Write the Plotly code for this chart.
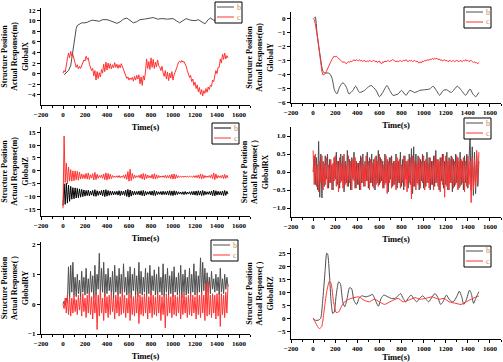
import plotly.graph_objects as go

# ---------------- data ----------------
t = list(range(0, 1501, 10))  # sampling grid (s) for the noisy series

# Panel 1 : GlobalX
t_b1 = [10, 30, 50, 70, 80, 90, 100, 110, 120, 130, 150, 170, 200, 220, 250, 270, 300, 330, 360,
        400, 430, 460, 490, 520, 550, 580, 610, 640, 670, 700, 740, 780, 820, 860, 900, 950, 1000,
        1030, 1060, 1090, 1120, 1160, 1200, 1230, 1260, 1290, 1320, 1340, 1370, 1400, 1450, 1500]
b1 = [-0.2, 0.2, 0.6, 1.5, 3.0, 4.5, 6.0, 7.5, 8.5, 9.1, 9.4, 9.6, 9.6, 9.7, 10.0, 10.1, 10.0, 9.9, 10.2,
      10.2, 10.0, 9.8, 9.5, 9.8, 10.3, 10.5, 10.0, 9.6, 9.8, 10.2, 10.3, 10.4, 10.6, 10.3, 10.4, 10.3, 10.4,
      10.0, 9.6, 10.0, 10.4, 10.1, 10.0, 10.2, 9.8, 9.4, 10.2, 10.5, 10.1, 10.0, 10.0, 10.0]
c1 = [0.1, 0.6, 0.3, 2.0, 2.8, 3.9, 3.0, 4.2, 3.3, 3.6, 2.4, 2.0, 1.2, 1.7, 0.9, 1.4, 1.0, 1.6, 2.0, 2.6,
      2.4, 3.3, 2.7, 3.0, 1.8, 1.2, 0.6, 1.0, -0.4, 0.6, -1.2, 0.4, -0.9, 0.2, -0.6, 0.8, 0.1, 1.8, 0.4, 2.2,
      0.7, 2.0, 1.0, 1.9, 0.9, 1.7, 1.1, 2.1, 1.2, 1.8, 1.0, 1.7, 1.1, 1.9, 1.3, 0.9, 0.3, -0.4, -0.9, -0.6,
      -1.2, -0.8, -1.1, -0.7, -1.4, -0.5, -1.2, -0.3, -1.0, -0.2, -1.9, -0.6, -2.2, -0.4, -1.2, 0.5, 2.8, 1.0, 2.3, 0.8,
      3.0, 1.2, 2.7, 1.0, 2.2, 1.3, 2.6, 1.5, 1.2, 0.6, 1.4, 0.2, -0.5, 0.6, -1.0, 0.3, -1.3, 0.1, -0.8, 0.4,
      -1.2, -0.2, 0.2, 0.9, 1.5, 2.2, 2.4, 2.1, 2.5, 2.2, 2.3, 1.9, 1.4, 0.6, 0.1, -0.7, -0.3, -1.5, -1.0, -2.2,
      -1.6, -2.8, -2.1, -3.4, -2.6, -3.9, -3.0, -4.2, -3.2, -3.7, -2.8, -3.5, -2.5, -3.0, -2.2, -2.4, -1.2, -1.5, -0.4, 0.6,
      0.0, 1.2, 1.2, 2.8, 2.0, 3.7, 2.7, 3.9, 2.8, 3.4, 3.0]

# Panel 2 : GlobalY
t_b2 = [10, 20, 35, 55, 70, 85, 100, 125, 150, 172, 194, 215, 240, 270, 300, 325, 360, 385, 420, 465,
        500, 525, 570, 600, 630, 668, 693, 723, 770, 800, 840, 875, 920, 965, 1010, 1055, 1085, 1115,
        1145, 1178, 1207, 1250, 1305, 1342, 1380, 1420, 1445, 1472, 1500]
b2 = [0.0, 0.1, -1.0, -2.2, -3.0, -3.7, -3.9, -3.9, -3.95, -4.3, -5.15, -5.4, -4.9, -4.6, -4.9, -5.4,
      -5.15, -4.85, -5.3, -5.15, -4.9, -4.8, -5.15, -5.6, -5.3, -4.8, -5.15, -5.5, -5.4, -5.15, -5.5,
      -5.15, -5.3, -5.15, -5.1, -5.05, -4.85, -5.15, -5.5, -5.15, -5.1, -5.3, -4.85, -5.15, -5.5, -5.05,
      -5.4, -5.6, -5.3]
c2 = [0.0, -0.1, -0.4, -0.8, -1.4, -2.0, -2.7, -3.3, -3.8, -4.05, -4.0, -3.95, -3.8, -3.6, -3.45, -3.3,
      -3.1, -2.95, -2.8, -2.7, -2.75, -2.7, -2.8, -2.85, -2.95, -3.0, -3.1, -3.15, -3.1, -3.2, -3.25, -3.15,
      -3.1, -3.15, -3.05, -3.1, -3.0, -2.95, -3.05, -2.95, -3.0, -3.05, -2.95, -3.05, -3.0, -3.1, -3.0, -3.05,
      -3.1, -3.05, -3.1, -3.0, -3.05, -3.1, -3.05, -3.0, -3.1, -3.05, -3.15, -3.1, -3.05, -3.2, -3.25, -3.1,
      -3.15, -3.05, -3.1, -3.05, -3.0, -3.1, -3.05, -2.95, -2.95, -3.0, -3.05, -3.1, -3.05, -3.1, -3.05, -3.0,
      -3.1, -3.05, -3.0, -3.05, -2.95, -3.05, -3.1, -3.0, -3.05, -3.0, -3.1, -3.05, -3.0, -3.1, -3.05, -3.15,
      -3.2, -3.1, -3.2, -3.05, -3.1, -3.0, -3.05, -3.0, -2.95, -3.0, -2.9, -2.95, -2.85, -2.95, -2.85, -2.9,
      -2.85, -2.95, -2.9, -3.0, -2.95, -3.05, -3.0, -2.95, -3.05, -3.0, -3.1, -3.05, -3.0, -3.1, -3.05, -3.0,
      -3.1, -3.05, -3.0, -3.05, -3.1, -3.0, -3.05, -3.1, -3.0, -3.05, -2.95, -3.05, -3.0, -3.1, -3.05, -3.0,
      -3.1, -3.15, -3.1, -3.2, -3.15, -3.25, -3.15]

# Panel 3 : GlobalZ
b3 = [-13.5, -5.0, -13.0, -4.8, -12.5, -5.5, -11.8, -6.0, -11.0, -6.5, -10.8, -6.6, -10.5, -6.8, -10.4, -7.0,
      -10.2, -7.2, -10.0, -7.4, -9.8, -7.6, -9.6, -7.5, -9.7, -7.8, -9.4, -7.6, -9.8, -7.3, -9.9, -7.7,
      -9.5, -7.9, -9.3, -7.6, -9.7, -7.4, -10.0, -7.3, -9.8, -7.6, -9.5, -7.8, -9.4, -7.9, -9.3, -8.0,
      -9.2, -7.9, -9.4, -7.7, -9.6, -7.8, -9.3, -7.9, -9.5, -7.5, -9.9, -7.2, -10.2, -7.4, -9.8, -7.8,
      -9.4, -7.9, -9.3, -8.0, -9.2, -7.8, -9.4, -7.7, -9.6, -7.6, -9.7, -7.9, -9.3, -8.1, -9.1, -7.9,
      -9.4, -7.8, -9.5, -7.6, -9.6, -7.9, -9.2, -8.1, -9.1, -8.0, -9.3, -7.9, -9.2, -8.0, -9.3, -7.8,
      -9.4, -7.7, -9.5, -7.8, -9.6, -7.7, -9.4, -7.9, -9.2, -8.1, -9.0, -8.2, -9.1, -8.1, -9.2, -8.0,
      -9.1, -8.2, -9.0, -8.1, -9.2, -8.0, -9.3, -7.9, -9.4, -7.8, -9.5, -7.7, -9.4, -7.8, -9.6, -7.6,
      -9.5, -7.9, -9.2, -8.1, -9.1, -8.0, -9.3, -7.8, -9.6, -7.5, -9.7, -7.7, -9.4, -7.9, -9.3, -8.0,
      -9.4, -7.8, -9.6, -7.6, -9.5, -7.9, -9.0]
c3 = [-14.5, 13.5, -4.5, 3.0, -5.0, 1.5, -4.0, 0.5, -4.0, 0.0, -3.8, 0.0, -3.5, -0.2, -3.6, -0.5,
      -3.2, -1.2, -3.0, -1.4, -3.0, -1.0, -3.2, -0.8, -3.3, -1.5, -2.8, -1.1, -3.5, -0.6, -3.4, -1.3,
      -2.9, -1.8, -2.6, -1.6, -2.9, -1.2, -3.4, -0.8, -3.6, -1.0, -3.2, -1.3, -3.0, -1.8, -2.6, -2.0,
      -2.5, -1.9, -2.6, -1.8, -2.7, -2.0, -2.5, -1.7, -2.9, -1.4, -3.3, -0.3, -4.0, 0.6, -3.8, -1.0,
      -3.0, -1.6, -2.7, -1.9, -2.5, -1.7, -2.8, -1.3, -3.2, -1.0, -3.4, -1.2, -3.0, -1.6, -2.7, -1.9,
      -2.8, -1.4, -3.1, -1.1, -3.2, -1.5, -2.9, -1.8, -2.6, -2.0, -2.5, -1.9, -2.6, -1.7, -2.8, -1.8,
      -2.7, -1.6, -3.0, -1.3, -3.2, -1.2, -3.1, -1.5, -2.8, -1.9, -2.5, -2.1, -2.4, -2.1, -2.5, -2.0,
      -2.4, -2.1, -2.5, -2.0, -2.4, -2.1, -2.5, -1.9, -2.6, -1.8, -2.7, -1.6, -2.9, -1.2, -3.2, -1.4,
      -2.9, -1.8, -2.6, -2.0, -2.5, -1.8, -2.7, -1.5, -3.0, -0.8, -3.4, -1.2, -2.9, -1.8, -2.6, -1.9,
      -2.8, -1.6, -3.0, -1.4, -2.9, -1.7, -2.7]

# Panel 4 : GlobalRX
b4 = [0.0, 0.45, -0.35, 0.4, -0.5, 0.85, -0.7, 0.5, -0.72, 0.3, -0.4, 0.45, -0.2, 0.5, -0.45, 0.35,
      -0.3, 0.2, -0.5, 0.4, -0.2, 0.55, -0.35, 0.3, -0.45, 0.5, -0.25, 0.45, -0.55, 0.3, -0.3, 0.6,
      -0.4, 0.35, -0.5, 0.4, -0.2, 0.55, -0.45, 0.3, -0.35, 0.25, -0.5, 0.45, -0.3, 0.5, -0.4, 0.3,
      -0.25, 0.55, -0.45, 0.4, -0.3, 0.5, -0.4, 0.35, -0.5, 0.45, -0.3, 0.6, -0.35, 0.4, -0.25, 0.3,
      -0.45, 0.5, -0.3, 0.35, -0.55, 0.4, -0.2, 0.45, -0.4, 0.3, -0.35, 0.5, -0.45, 0.3, -0.3, 0.55,
      -0.4, 0.35, -0.5, 0.45, -0.2, 0.3, -0.45, 0.5, -0.35, 0.65, -0.6, 0.7, -0.4, 0.5, -0.3, 0.45,
      -0.5, 0.35, -0.25, 0.5, -0.45, 0.3, -0.4, 0.55, -0.3, 0.4, -0.5, 0.3, -0.35, 0.45, -0.4, 0.6,
      -0.3, 0.35, -0.5, 0.4, -0.25, 0.5, -0.45, 0.3, -0.35, 0.55, -0.5, 0.4, -0.3, 0.45, -0.55, 0.35,
      -0.4, 0.5, -0.3, 0.4, -0.45, 0.55, -0.35, 0.3, -0.5, 0.45, -0.3, 0.5, -0.45, 0.6, 1.0, -0.5,
      0.7, -0.65, 0.55, -0.6, 0.45, -0.4, 0.3]
c4 = [0.6, -0.35, 0.5, -0.4, 0.2, -0.55, 0.3, -0.3, 0.45, -0.5, 0.25, -0.35, 0.4, -0.45, 0.2, -0.3,
      0.35, -0.5, 0.25, -0.25, 0.45, -0.4, 0.3, -0.55, 0.4, -0.3, 0.25, -0.45, 0.5, -0.35, 0.2, -0.4,
      0.45, -0.3, 0.3, -0.5, 0.35, -0.25, 0.4, -0.45, 0.25, -0.35, 0.3, -0.5, 0.4, -0.3, 0.2, -0.4,
      0.45, -0.25, 0.3, -0.5, 0.35, -0.3, 0.25, -0.45, 0.4, -0.35, 0.3, -0.4, 0.5, -0.3, 0.35, -0.45,
      0.2, -0.35, 0.45, -0.6, 0.3, -0.3, 0.4, -0.45, 0.25, -0.35, 0.3, -0.5, 0.4, -0.3, 0.35, -0.45,
      0.2, -0.3, 0.45, -0.4, 0.3, -0.55, 0.35, -0.3, 0.4, -0.75, 0.45, -0.4, 0.3, -0.5, 0.25, -0.35,
      0.4, -0.45, 0.3, -0.3, 0.45, -0.5, 0.35, -0.3, 0.25, -0.45, 0.4, -0.35, 0.3, -0.5, 0.45, -0.3,
      0.35, -0.4, 0.3, -0.55, 0.4, -0.35, 0.5, -0.7, 0.45, -0.4, 0.3, -0.5, 0.35, -0.3, 0.4, -0.45,
      0.3, -0.35, 0.45, -0.5, 0.3, -0.4, 0.35, -0.3, 0.4, -0.55, 0.3, -0.4, 0.45, -0.35, 0.3, -0.85,
      0.4, -0.5, 0.35, -0.45, 0.6, -0.3, 0.55]

# Panel 5 : GlobalRY
b5 = [0.0, 0.1, -0.05, 0.2, 0.05, 1.25, 0.2, 1.3, 0.4, 1.4, 0.3, 0.9, 0.25, 1.0, 0.35, 0.8,
      0.2, 1.1, 0.4, 0.9, 0.3, 1.2, 0.35, 0.85, 0.25, 1.1, 0.4, 0.95, 0.2, 1.3, 0.3, 1.0,
      0.5, 1.7, 0.3, 1.2, 0.4, 1.4, 0.25, 1.0, 0.35, 1.2, 0.45, 0.9, 0.3, 1.1, 0.2, 1.3,
      0.4, 0.95, 0.3, 1.2, 0.35, 1.0, 0.25, 1.35, 0.4, 0.9, 0.3, 1.1, 0.35, 1.25, 0.2, 1.0,
      0.45, 1.2, 0.3, 0.95, 0.25, 1.4, 0.35, 1.1, 0.3, 0.9, 0.4, 1.2, 0.25, 1.05, 0.35, 1.3,
      0.3, 0.95, 0.45, 1.15, 0.3, 1.0, 0.2, 1.25, 0.4, 0.9, 0.3, 1.35, 0.25, 1.0, 0.4, 1.2,
      0.3, 0.95, 0.35, 1.1, 0.25, 1.25, 0.4, 0.9, 0.3, 1.05, 0.35, 1.3, 0.2, 1.0, 0.4, 1.15,
      0.3, 0.9, 0.35, 1.2, 0.25, 1.0, 0.4, 1.35, 0.3, 1.1, 0.35, 0.95, 0.4, 1.55, 0.3, 1.4,
      0.45, 1.2, 0.3, 1.05, 0.4, 0.9, 0.35, 1.1, 0.5, 0.85, 0.4, 1.0, 0.45, 0.9, 0.3, 1.2,
      0.4, 0.85, 0.35, 1.0, 0.5, 0.9, 0.6]
c5 = [0.0, -0.15, 0.2, -0.3, 0.3, -0.35, 0.25, -0.4, 0.2, -0.3, 0.35, -0.25, 0.15, -0.35, 0.3, -0.2,
      0.25, -0.4, 0.35, -0.25, 0.2, -0.45, 0.3, -0.3, 0.4, -0.35, 0.25, -0.5, 0.3, -0.3, 0.35, -0.85,
      0.3, -0.4, 0.45, -0.3, 0.2, -0.55, 0.35, -0.3, 0.25, -0.45, 0.3, -0.35, 0.4, -0.25, 0.2, -0.5,
      0.3, -0.3, 0.35, -0.4, 0.25, -0.35, 0.45, -0.3, 0.3, -0.45, 0.2, -0.3, 0.35, -0.55, 0.3, -0.35,
      0.25, -0.4, 0.3, -0.3, 0.4, -0.65, 0.3, -0.35, 0.25, -0.4, 0.35, -0.3, 0.3, -0.5, 0.25, -0.3,
      0.4, -0.45, 0.3, -0.35, 0.25, -0.4, 0.35, -0.3, 0.3, -0.55, 0.25, -0.35, 0.3, -0.8, 0.35, -0.4,
      0.3, -0.3, 0.25, -0.45, 0.35, -0.35, 0.3, -0.4, 0.25, -0.3, 0.35, -0.5, 0.3, -0.35, 0.4, -0.3,
      0.25, -0.45, 0.3, -0.35, 0.35, -0.4, 0.3, -0.3, 0.25, -0.5, 0.35, -0.35, 0.3, -0.45, 0.4, -0.3,
      0.3, -0.55, 0.7, -0.4, 0.75, -0.35, 0.3, -0.45, 0.35, -0.3, 0.3, -0.5, 0.35, -0.4, 0.3, -0.75,
      0.35, -0.35, 0.3, -0.45, 0.4, -0.3, 0.65]

# Panel 6 : GlobalRZ
t_b6 = [0, 22, 46, 68, 86, 108, 123, 132, 148, 163, 178, 191, 209, 231, 246, 268, 286, 308, 329, 348,
        369, 394, 415, 440, 477, 508, 538, 569, 591, 615, 640, 677, 708, 740, 769, 791, 815, 837, 862,
        886, 914, 938, 963, 991, 1015, 1046, 1077, 1102, 1126, 1154, 1175, 1206, 1237, 1268, 1298, 1323,
        1345, 1363, 1385, 1415, 1431, 1452, 1471, 1492, 1500]
b6 = [-0.1, -0.8, -0.8, -0.1, 6.3, 17.9, 25.0, 24.6, 16.6, 6.3, 1.8, 2.4, 8.9, 14.0, 13.4, 6.3, 4.4,
      7.6, 11.7, 11.4, 6.9, 5.3, 7.6, 8.6, 8.2, 8.6, 9.1, 6.3, 4.6, 7.6, 8.9, 8.2, 7.6, 7.6, 8.6, 9.5,
      7.6, 6.3, 7.8, 8.9, 7.3, 6.3, 7.6, 8.6, 7.6, 6.3, 8.2, 9.5, 8.2, 5.3, 6.3, 8.9, 6.9, 6.3, 8.2,
      10.4, 8.2, 5.3, 6.9, 10.8, 9.5, 5.7, 7.6, 9.5, 10.2]
t_c6 = [0, 25, 55, 77, 98, 123, 148, 163, 185, 209, 231, 262, 292, 323, 369, 415, 462, 508, 554, 600,
        646, 708, 769, 815, 862, 923, 969, 1015, 1077, 1138, 1185, 1231, 1292, 1338, 1385, 1431, 1477, 1500]
c6 = [0.1, -2.0, -4.0, -3.3, 2.4, 10.2, 14.3, 13.4, 6.3, 2.2, 2.4, 5.0, 6.6, 7.3, 7.9, 8.2, 6.9, 6.3,
      7.3, 6.3, 5.3, 6.6, 7.6, 6.3, 6.9, 7.9, 7.3, 7.6, 8.2, 7.3, 7.6, 6.3, 5.7, 5.3, 6.3, 7.3, 8.2, 8.5]

series_names = ["b", "c"]
x_ticks = [-200, 0, 200, 400, 600, 800, 1000, 1200, 1400, 1600]

# ---------------- layout / style ----------------
W, H = 503, 362
GRAY = "#4d4d4d"
RED = "#ff3333"
BLACK = "#000000"
LEGTXT = "#d08a4a"
FONT = "Liberation Serif"

panels = [
    dict(xs=(41, 250), ys=(8, 105), yr=[-5.9, 12.4], dt=2, fmt="", label="Actual Response(m)", comp="GlobalX",
         traces=[(t_b1, b1, GRAY, False), (t, c1, RED, False)], leg=(215, 2)),
    dict(xs=(291, 501), ys=(12, 103), yr=[-6.05, 0.45], dt=1, fmt="", label="Actual Response(m)", comp="GlobalY",
         traces=[(t_b2, b2, GRAY, True), (t, c2, RED, False)], leg=(464, 7)),
    dict(xs=(41, 250), ys=(127, 216), yr=[-17.5, 17], dt=5, fmt="", label="Actual Response(m)", comp="GlobalZ",
         traces=[(t, b3, BLACK, False), (t, c3, RED, False)], leg=(212, 123)),
    dict(xs=(291, 501), ys=(127, 217), yr=[-1.25, 1.25], dt=0.5, fmt=".1f", label="Actual Response( )", comp="GlobalRX",
         traces=[(t, b4, GRAY, False), (t, c4, RED, False)], leg=(464, 118)),
    dict(xs=(41, 250), ys=(242, 334), yr=[-1, 2.08], dt=1, fmt="", label="Actual Response( )", comp="GlobalRY",
         traces=[(t, b5, GRAY, False), (t, c5, RED, False)], leg=(211, 240)),
    dict(xs=(291, 501), ys=(248, 339), yr=[-8, 27], dt=5, fmt="", label="Actual Response( )", comp="GlobalRZ",
         traces=[(t_b6, b6, GRAY, True), (t_c6, c6, RED, True)], leg=(464, 246)),
]
LEG_W, LEG_H = 27, 21

fig = go.Figure()
layout = dict(width=W, height=H, margin=dict(l=0, r=0, t=0, b=0),
              paper_bgcolor="white", plot_bgcolor="white", showlegend=False)

tickfont = dict(family=FONT, size=7, color="black", weight="bold")
shapes, annotations = [], []

def px(xp):
    return xp / W

def py(yp):
    return 1 - yp / H

for i, p in enumerate(panels):
    n = i + 1
    xa = "x" if n == 1 else f"x{n}"
    ya = "y" if n == 1 else f"y{n}"
    cols = []
    for (xs, ys, col, smooth), name in zip(p["traces"], series_names):
        cols.append(col)
        fig.add_trace(go.Scatter(
            x=xs, y=ys, mode="lines", name=name, xaxis=xa, yaxis=ya,
            line=dict(color=col, width=1, shape="spline" if smooth else "linear", smoothing=0.6),
            hoverinfo="skip"))
    xdom = [px(p["xs"][0]), px(p["xs"][1])]
    ydom = [py(p["ys"][1]), py(p["ys"][0])]
    layout["xaxis" if n == 1 else f"xaxis{n}"] = dict(
        domain=xdom, anchor=ya, range=[-200, 1700], tickvals=x_ticks, automargin=False,
        showline=True, linecolor="black", linewidth=1, ticks="outside", ticklen=3, tickwidth=1,
        tickcolor="black", showgrid=False, zeroline=False, tickfont=tickfont,
        minor=dict(ticks="outside", ticklen=2, dtick=100, tickcolor="black", showgrid=False),
        title=dict(text="Time(s)", font=dict(family=FONT, size=8.5, color="black", weight="bold"), standoff=5))
    layout["yaxis" if n == 1 else f"yaxis{n}"] = dict(
        domain=ydom, anchor=xa, range=p["yr"], dtick=p["dt"], tick0=0, tickformat=p["fmt"], automargin=False,
        showline=True, linecolor="black", linewidth=1, ticks="outside", ticklen=3, tickwidth=1,
        tickcolor="black", showgrid=False, zeroline=False, tickfont=tickfont,
        title=dict(text=f"Structure Position<br>{p['label']}<br>{p['comp']}",
                   font=dict(family=FONT, size=8, color="black", weight="bold"), standoff=3))

    # legend box (drawn like the reference's small framed key)
    lx, ly = p["leg"]
    shapes.append(dict(type="rect", xref="paper", yref="paper", x0=px(lx), x1=px(lx + LEG_W),
                       y0=py(ly + LEG_H), y1=py(ly), line=dict(color="black", width=1),
                       fillcolor="white", layer="above"))
    for k, (name, col) in enumerate(zip(series_names, cols)):
        yy = ly + 5 + k * 10
        shapes.append(dict(type="line", xref="paper", yref="paper", x0=px(lx + 2), x1=px(lx + 19),
                           y0=py(yy), y1=py(yy), line=dict(color=col, width=1), layer="above"))
        annotations.append(dict(xref="paper", yref="paper", x=px(lx + 19.5), y=py(yy), text=name,
                                showarrow=False, xanchor="left", yanchor="middle",
                                font=dict(family=FONT, size=8, color=LEGTXT)))

layout["shapes"] = shapes
layout["annotations"] = annotations
fig.update_layout(**layout)
fig.write_html("out.html", config={"displayModeBar": False},
               post_script="document.body.style.margin='0';document.body.style.padding='0';")
